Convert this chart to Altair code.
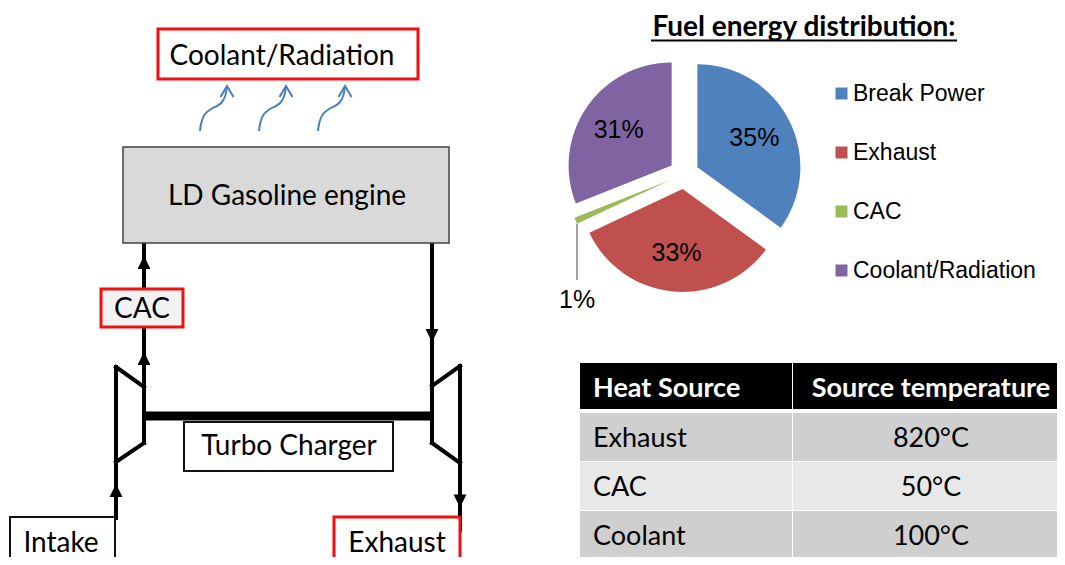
import math
import altair as alt
import pandas as pd

# ---------------- DATA ----------------
pie_categories = ["Break Power", "Exhaust", "CAC", "Coolant/Radiation"]
pie_values = [35, 33, 1, 31]
pie_title = "Fuel energy distribution:"
table_header = ["Heat Source", "Source temperature"]
table_sources = ["Exhaust", "CAC", "Coolant"]
table_temps = ["820°C", "50°C", "100°C"]
box_labels = ["Coolant/Radiation", "LD Gasoline engine", "CAC", "Turbo Charger", "Intake", "Exhaust"]

# ---------------- STYLE ----------------
pie_colors = ["#4f81bd", "#c0504d", "#9bbb59", "#8064a2"]
RED = "#f01010"
FONT_C = "Lato"             # stand-in for Calibri
FONT_A = "Liberation Sans"  # stand-in for Arial
DIAG_FS = 28
TABLE_FS = 27

# ---------------- LAYOUT (page pixel coordinates) ----------------
W, H = 1049, 549
XS = alt.Scale(domain=[8, 8 + W], nice=False, zero=False)
YS = alt.Scale(domain=[8, 8 + H], nice=False, zero=False, reverse=True)
TS = alt.Scale(domain=[0, 100], range=[0, 2 * math.pi])

# boxes: x0, x1, y0, y1, fill, stroke, stroke width, label x, label baseline
BOXES = [
    (158, 418, 29, 79, "white", RED, 3, 282, 65),
    (123, 449, 147, 243, "#d9d9d9", "#404040", 1.5, 287, 205),
    (101, 183, 289, 327, "#f2f2f2", RED, 3, 142, 318),
    (184, 393, 422, 471, "white", "#111111", 2, 289, 455),
    (10, 115, 517, 585, "white", "#111111", 2, 61, 552),
    (334, 460, 517, 585, "white", RED, 3, 397, 552),
]
PIPES = [
    (144, 243, 144, 443), (116, 367, 116, 518), (116, 367, 144, 387), (116, 462, 144, 443),
    (432, 243, 432, 443), (460, 366, 460, 530), (460, 366, 432, 386), (432, 443, 460, 463),
]
SHAFT = (144, 416, 432, 416)
HEADS = [(144, 262.5, "up"), (144, 358.5, "up"), (116, 490.5, "up"),
         (432, 335.5, "down"), (460, 501, "down")]
HEAD_PATH = {"up": "M-1,1L0,-1L1,1Z", "down": "M-1,-1L0,1L1,-1Z"}
WAVE_STARTS = [(200, 131), (259, 131), (318, 131)]
WAVE_SHAPE = [(0, 0), (1.5, -9), (5, -17), (11, -22), (17, -25), (22, -29), (25.5, -36), (27, -45)]
CHEVRON = [(20.5, -34), (27, -45), (33.5, -34)]

PIE_CX, PIE_CY, PIE_R, EXPLODE, LABEL_R = 684, 174, 103, 15, 64
LEADER_END = 280
TITLE_X, TITLE_Y = 804, 36
UNDERLINE = (651, 957, 40.5)

TABLE_X = [580, 792, 793, 1070]   # col1 x0,x1 ; col2 x0,x1
HEADER_Y = (363, 409)
ROW0_Y, ROW_H, ROW_GAP = 413, 48, 1
TEXT_DY = 34
COL1_TEXT_X, COL2_TEXT_X = 593, 931
ROW_FILLS = ["#cfcfcf", "#e8e8e8"]

# ---------------- TABLES ----------------
boxes_df = pd.DataFrame([
    dict(x0=b[0], x1=b[1], y0=b[2], y1=b[3], fill=b[4], stroke=b[5], sw=b[6],
         lx=b[7], ly=b[8], label=box_labels[i]) for i, b in enumerate(BOXES)
])
pipes_df = pd.DataFrame([dict(x0=p[0], y0=p[1], x1=p[2], y1=p[3]) for p in PIPES])
shaft_df = pd.DataFrame([dict(x0=SHAFT[0], y0=SHAFT[1], x1=SHAFT[2], y1=SHAFT[3])])
heads_df = pd.DataFrame([dict(x=h[0], y=h[1], shape=HEAD_PATH[h[2]]) for h in HEADS])
wave_rows, chev_rows = [], []
for k, (sx, sy) in enumerate(WAVE_STARTS):
    for i, (dx, dy) in enumerate(WAVE_SHAPE):
        wave_rows.append(dict(id=k, i=i, x=sx + dx, y=sy + dy))
    for i, (dx, dy) in enumerate(CHEVRON):
        chev_rows.append(dict(id=k, i=i, x=sx + dx, y=sy + dy))
wave_df = pd.DataFrame(wave_rows)
chev_df = pd.DataFrame(chev_rows)

cells = []
cells.append(dict(x0=TABLE_X[0], x1=TABLE_X[1], y0=HEADER_Y[0], y1=HEADER_Y[1], fill="black"))
cells.append(dict(x0=TABLE_X[2], x1=TABLE_X[3], y0=HEADER_Y[0], y1=HEADER_Y[1], fill="black"))
table_text = [
    dict(x=COL1_TEXT_X, y=HEADER_Y[0] + TEXT_DY, t=table_header[0], col=0, fill="white", bold=1),
    dict(x=COL2_TEXT_X, y=HEADER_Y[0] + TEXT_DY, t=table_header[1], col=1, fill="white", bold=1),
]
for r, (src, tmp) in enumerate(zip(table_sources, table_temps)):
    top = ROW0_Y + r * (ROW_H + ROW_GAP)
    f = ROW_FILLS[r % 2]
    cells.append(dict(x0=TABLE_X[0], x1=TABLE_X[1], y0=top, y1=top + ROW_H, fill=f))
    cells.append(dict(x0=TABLE_X[2], x1=TABLE_X[3], y0=top, y1=top + ROW_H, fill=f))
    table_text.append(dict(x=COL1_TEXT_X, y=top + TEXT_DY, t=src, col=0, fill="black", bold=0))
    table_text.append(dict(x=COL2_TEXT_X, y=top + TEXT_DY, t=tmp, col=1, fill="black", bold=0))
cells_df = pd.DataFrame(cells)
ttext_df = pd.DataFrame(table_text)

pie_df = pd.DataFrame({"category": pie_categories, "value": pie_values,
                       "order": list(range(len(pie_values)))})
pie_df["label"] = [f"{v}%" for v in pie_values]

X = lambda f: alt.X(f, scale=XS, axis=None)
Y = lambda f: alt.Y(f, scale=YS, axis=None)

# ---------------- LAYERS ----------------
pipes = alt.Chart(pipes_df).mark_rule(color="black", strokeWidth=4, strokeCap="square").encode(
    x=X("x0:Q"), y=Y("y0:Q"), x2="x1:Q", y2="y1:Q")
shaft = alt.Chart(shaft_df).mark_rule(color="black", strokeWidth=9, strokeCap="butt").encode(
    x=X("x0:Q"), y=Y("y0:Q"), x2="x1:Q", y2="y1:Q")
heads = alt.Chart(heads_df).mark_point(filled=True, size=169, opacity=1, color="black").encode(
    x=X("x:Q"), y=Y("y:Q"), shape=alt.Shape("shape:N", scale=None))
boxes = alt.Chart(boxes_df).mark_rect().encode(
    x=X("x0:Q"), x2="x1:Q", y=Y("y0:Q"), y2="y1:Q",
    fill=alt.Fill("fill:N", scale=None), stroke=alt.Stroke("stroke:N", scale=None),
    strokeWidth=alt.StrokeWidth("sw:Q", scale=None))
box_text = alt.Chart(boxes_df).mark_text(font=FONT_C, fontSize=DIAG_FS, align="center",
                                         baseline="alphabetic", color="black").encode(
    x=X("lx:Q"), y=Y("ly:Q"), text="label:N")
waves = alt.Chart(wave_df).mark_line(color="#4a7ebb", strokeWidth=2, interpolate="catmull-rom").encode(
    x=X("x:Q"), y=Y("y:Q"), detail="id:N", order="i:Q")
chevs = alt.Chart(chev_df).mark_line(color="#4a7ebb", strokeWidth=2).encode(
    x=X("x:Q"), y=Y("y:Q"), detail="id:N", order="i:Q")

pie_base = alt.Chart(pie_df).transform_window(
    end="sum(value)", sort=[alt.SortField("order")], frame=[None, 0]
).transform_calculate(
    start="datum.end - datum.value"
).transform_calculate(
    mid="(datum.start + datum.end) / 2"
).transform_calculate(
    ang="2 * PI * datum.mid / 100", a0="2 * PI * datum.start / 100"
).transform_calculate(
    cx=f"{PIE_CX} + {EXPLODE} * sin(datum.ang)",
    cy=f"{PIE_CY} - {EXPLODE} * cos(datum.ang)",
)
arcs = pie_base.mark_arc(radius=PIE_R, strokeWidth=0).encode(
    x=X("cx:Q"), y=Y("cy:Q"),
    theta=alt.Theta("start:Q", scale=TS, stack=False), theta2="end:Q",
    color=alt.Color("category:N", scale=alt.Scale(domain=pie_categories, range=pie_colors),
                    legend=alt.Legend(orient="none", legendX=822, legendY=74, title=None,
                                      symbolType="square", symbolSize=144, symbolStrokeWidth=0,
                                      symbolOpacity=1, labelFont=FONT_A, labelFontSize=23,
                                      labelColor="black", rowPadding=35, labelOffset=0,
                                      padding=0, offset=0, labelLimit=400)),
)
pie_labels = pie_base.transform_filter("datum.value >= 5").mark_text(
    radius=LABEL_R, font=FONT_A, fontSize=25, color="black", baseline="middle", align="center"
).encode(x=X("cx:Q"), y=Y("cy:Q"), theta=alt.Theta("mid:Q", scale=TS, stack=False), text="label:N")
small = pie_base.transform_filter("datum.value < 5").transform_calculate(
    lx=f"datum.cx + {PIE_R} * sin(datum.a0)", ly=f"datum.cy - {PIE_R} * cos(datum.a0)",
    ly2=f"{LEADER_END}", ty=f"{LEADER_END} + 28")
leader = small.mark_rule(color="#404040", strokeWidth=1).encode(x=X("lx:Q"), y=Y("ly:Q"), y2="ly2:Q")
small_label = small.mark_text(font=FONT_A, fontSize=25, color="black", baseline="alphabetic",
                              align="center").encode(x=X("lx:Q"), y=Y("ty:Q"), text="label:N")

title_df = pd.DataFrame([dict(x=TITLE_X, y=TITLE_Y, t=pie_title,
                              u0=UNDERLINE[0], u1=UNDERLINE[1], uy=UNDERLINE[2])])
title = alt.Chart(title_df).mark_text(font=FONT_C, fontSize=28, fontWeight="bold", color="black",
                                      baseline="alphabetic", align="center").encode(
    x=X("x:Q"), y=Y("y:Q"), text="t:N")
underline = alt.Chart(title_df).mark_rule(color="black", strokeWidth=2).encode(
    x=X("u0:Q"), x2="u1:Q", y=Y("uy:Q"))

table_cells = alt.Chart(cells_df).mark_rect().encode(
    x=X("x0:Q"), x2="x1:Q", y=Y("y0:Q"), y2="y1:Q", fill=alt.Fill("fill:N", scale=None))
tt_left = alt.Chart(ttext_df).transform_filter("datum.col == 0")
tt_right = alt.Chart(ttext_df).transform_filter("datum.col == 1")
t1 = tt_left.transform_filter("datum.bold == 1").mark_text(
    font=FONT_C, fontSize=TABLE_FS, fontWeight="bold", align="left", baseline="alphabetic").encode(
    x=X("x:Q"), y=Y("y:Q"), text="t:N", fill=alt.Fill("fill:N", scale=None))
t2 = tt_left.transform_filter("datum.bold == 0").mark_text(
    font=FONT_C, fontSize=TABLE_FS, align="left", baseline="alphabetic").encode(
    x=X("x:Q"), y=Y("y:Q"), text="t:N", fill=alt.Fill("fill:N", scale=None))
t3 = tt_right.transform_filter("datum.bold == 1").mark_text(
    font=FONT_C, fontSize=TABLE_FS, fontWeight="bold", align="center", baseline="alphabetic").encode(
    x=X("x:Q"), y=Y("y:Q"), text="t:N", fill=alt.Fill("fill:N", scale=None))
t4 = tt_right.transform_filter("datum.bold == 0").mark_text(
    font=FONT_C, fontSize=TABLE_FS, align="center", baseline="alphabetic").encode(
    x=X("x:Q"), y=Y("y:Q"), text="t:N", fill=alt.Fill("fill:N", scale=None))

chart = alt.layer(
    pipes, shaft, heads, boxes, box_text, waves, chevs,
    arcs, pie_labels, leader, small_label, title, underline,
    table_cells, t1, t2, t3, t4,
).properties(
    width=W, height=H, padding=0, autosize=alt.AutoSizeParams(type="none"), background="white"
).configure_view(strokeWidth=0)

chart.save("out.html", embed_options={"renderer": "svg", "actions": False})
